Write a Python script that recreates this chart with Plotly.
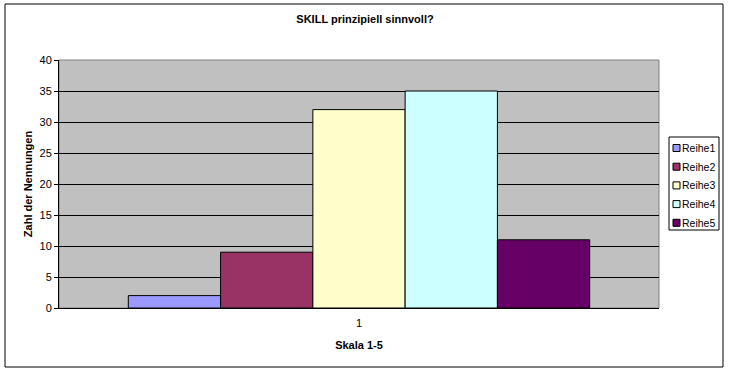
import plotly.graph_objects as go

categories = ["1"]
series_names = ["Reihe1", "Reihe2", "Reihe3", "Reihe4", "Reihe5"]
series_values = [[2], [9], [32], [35], [11]]
series_colors = ["#9999FF", "#993366", "#FFFFCC", "#CCFFFF", "#660066"]
y_ticks = [0, 5, 10, 15, 20, 25, 30, 35, 40]

W, H = 729, 372
L, R, T, B = 59, 70, 60, 64
pw, ph = W - L - R, H - T - B

def px_x(x):
    return (x - L) / pw

def px_y(y):
    return (H - B - y) / ph

FONT = "Liberation Sans, Arial, sans-serif"

fig = go.Figure()
for name, vals, col in zip(series_names, series_values, series_colors):
    fig.add_trace(go.Bar(x=categories, y=vals, name=name, showlegend=False,
                         marker=dict(color=col, line=dict(color="black", width=1))))

fig.update_layout(
    width=W, height=H,
    margin=dict(l=L, r=R, t=T, b=B, autoexpand=False),
    paper_bgcolor="white",
    plot_bgcolor="#C0C0C0",
    barmode="group",
    bargap=0.231,
    bargroupgap=0,
    font=dict(family=FONT, size=11, color="black"),
    title=dict(text="<b>SKILL prinzipiell sinnvoll?</b>", x=px_x(365), xref="paper",
               xanchor="center", y=1 - 19 / H, yanchor="middle",
               font=dict(family=FONT, size=11, color="black")),
    showlegend=False,
    xaxis=dict(title=dict(text="<b>Skala 1-5</b>", standoff=13,
                          font=dict(family=FONT, size=11)),
               showline=True, linecolor="black", linewidth=1,
               ticks="outside", ticklen=5, tickcolor="rgba(0,0,0,0)",
               showgrid=False, tickfont=dict(family=FONT, size=11)),
    yaxis=dict(title=dict(text="<b>Zahl der Nennungen</b>", standoff=4,
                          font=dict(family=FONT, size=11)),
               range=[0, 40], tickvals=y_ticks, showline=True, linecolor="black",
               linewidth=1, ticks="outside", ticklen=4, tickcolor="black",
               showgrid=True, gridcolor="black", gridwidth=1,
               zeroline=False, tickfont=dict(family=FONT, size=11)),
)

# plot area border (gray top/right as in Excel)
fig.add_shape(type="rect", xref="paper", yref="paper", x0=0, x1=1, y0=0, y1=1,
              line=dict(color="#808080", width=1), layer="below")
# outer chart border
fig.add_shape(type="rect", xref="paper", yref="paper",
              x0=px_x(5), x1=px_x(723), y0=px_y(367), y1=px_y(4),
              line=dict(color="black", width=1))

# legend box (drawn manually to match the compact Excel legend)
fig.add_shape(type="rect", xref="paper", yref="paper",
              x0=px_x(669), x1=px_x(719), y0=px_y(230), y1=px_y(137),
              line=dict(color="black", width=1), fillcolor="white")
for i, (name, col) in enumerate(zip(series_names, series_colors)):
    yc = 148 + i * 18.7
    fig.add_shape(type="rect", xref="paper", yref="paper",
                  x0=px_x(673), x1=px_x(680), y0=px_y(yc + 3.5), y1=px_y(yc - 3.5),
                  line=dict(color="black", width=1), fillcolor=col)
    fig.add_annotation(xref="paper", yref="paper", x=px_x(680), y=px_y(yc),
                       xanchor="left", yanchor="middle", showarrow=False,
                       text=name, font=dict(family=FONT, size=10.5, color="black"))

fig.write_html("out.html", config={"displayModeBar": False},
               post_script="document.body.style.margin='0';")
